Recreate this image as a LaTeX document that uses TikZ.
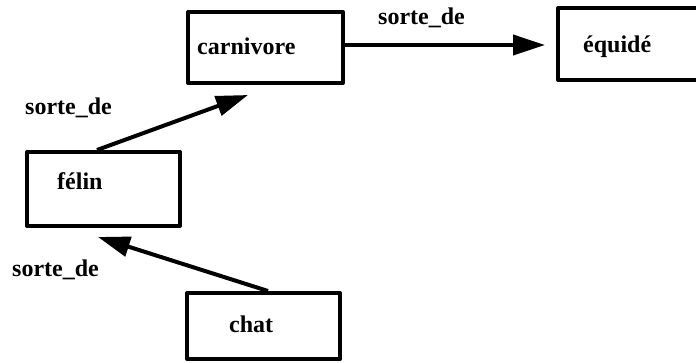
\documentclass[tikz,border=0pt]{standalone}
\usepackage{fontspec}
\setmainfont{Liberation Serif}
\usetikzlibrary{arrows.meta}
\begin{document}
\begin{tikzpicture}[x=1pt,y=-1pt,
  box/.style={draw, line width=4pt, line join=round, rectangle, inner sep=0pt},
  word/.style={anchor=base west, inner sep=0pt, font=\fontsize{24}{28}\selectfont\bfseries},
  arr/.style={line width=4pt, -{Triangle[length=32pt,width=20pt]}}]
\useasboundingbox (0,0) rectangle (696,363);
% concept boxes
\node[box, minimum width=155pt, minimum height=71pt] (carn) at (265.5,47.5) {};
\node[box, minimum width=150pt, minimum height=72pt] (equi) at (633,44) {};
\node[box, minimum width=153pt, minimum height=74pt] (felin) at (103.5,189) {};
\node[box, minimum width=153pt, minimum height=66pt] (chat) at (263.5,326) {};
% box labels
\node[word] (tcarn) at (197,55) {carnivore};
\node[word] (tequi) at (583,53) {équidé};
\node[word] (tfelin) at (57,190) {félin};
\node[word] (tchat) at (229,332) {chat};
% relation labels
\node[word] (r1) at (378,25) {sorte\_de};
\node[word] (r2) at (25,115) {sorte\_de};
\node[word] (r3) at (12,277) {sorte\_de};
% relations
\coordinate (c1) at ([yshift=2.5pt]carn.east);
\draw[arr, shorten >=11pt] (c1) -- (c1 -| equi.west);
\draw[arr] ([xshift=-6.5pt]felin.north) -- ([xshift=-17.5pt,yshift=-10pt]carn.south);
\draw[arr] ([xshift=4.5pt]chat.north) -- ([xshift=-5.5pt,yshift=-9pt]felin.south);
\end{tikzpicture}
\end{document}
